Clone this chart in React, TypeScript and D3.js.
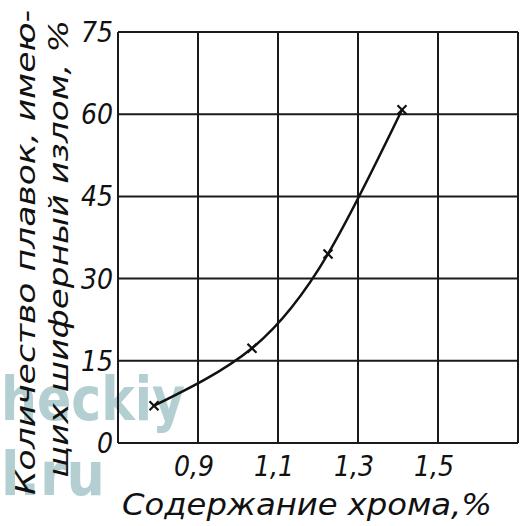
import React from "react";
import * as d3 from "d3";

// Cr content, % and share of heats with slate fracture, %
const chromium = [0.79, 1.035, 1.225, 1.41];
const slateShare = [6.8, 17.3, 34.5, 60.8];
const xTicks = [0.9, 1.1, 1.3, 1.5];
const xGrid = [0.7, 0.9, 1.1, 1.3, 1.5, 1.7];
const yTicks = [0, 15, 30, 45, 60, 75];

const FONT = "'DejaVu Sans Condensed', 'DejaVu Sans', sans-serif";

const App = () => {
  const width = 528;
  const height = 526;
  const left = 118;
  const right = 518;
  const top = 32;
  const bottom = 443;

  const x = d3.scaleLinear().domain([0.7, 1.7]).range([left, right]);
  const y = d3.scaleLinear().domain([0, 75]).range([bottom, top]);

  const points: [number, number][] = chromium.map((c, i) => [c, slateShare[i]]);
  const line = d3
    .line<[number, number]>()
    .x((d) => x(d[0]))
    .y((d) => y(d[1]))
    .curve(d3.curveNatural);

  const fmt = (v: number) => v.toFixed(1).replace(".", ",");

  return (
    <svg
      width={width}
      height={height}
      style={{ position: "absolute", left: 0, top: 0, background: "#fff" }}
    >
      {/* watermark */}
      <g fill="#a6c7cb" opacity={0.85} fontFamily="'DejaVu Sans', sans-serif" fontWeight="bold">
        <text x={1} y={420} fontSize={60} textLength={184} lengthAdjust="spacingAndGlyphs">
          heckiy
        </text>
        <text x={1} y={495} fontSize={60} textLength={104} lengthAdjust="spacingAndGlyphs">
          l.ru
        </text>
      </g>

      {/* grid */}
      <g stroke="#1a1a1a" strokeWidth={2}>
        {xGrid.map((v) => (
          <line key={"gx" + v} x1={x(v)} x2={x(v)} y1={top} y2={bottom} />
        ))}
        {yTicks.map((v) => (
          <line key={"gy" + v} x1={left} x2={right} y1={y(v)} y2={y(v)} />
        ))}
      </g>

      {/* curve */}
      <path d={line(points) || ""} fill="none" stroke="#111" strokeWidth={2.5} />

      {/* markers */}
      {points.map((d, i) => (
        <g key={i} transform={`translate(${x(d[0])},${y(d[1])})`} stroke="#111" strokeWidth={2.2}>
          <line x1={-4.5} y1={-4.5} x2={4.5} y2={4.5} />
          <line x1={-4.5} y1={4.5} x2={4.5} y2={-4.5} />
        </g>
      ))}

      {/* y tick labels */}
      <g fontFamily={FONT} fontStyle="italic" fontSize={28} fill="#111" textAnchor="end">
        {yTicks.map((v) => (
          <text key={"ty" + v} x={left - 5} y={y(v) + 10}>
            {v}
          </text>
        ))}
      </g>

      {/* x tick labels */}
      <g fontFamily={FONT} fontStyle="italic" fontSize={28} fill="#111" textAnchor="middle">
        {xTicks.map((v) => (
          <text key={"tx" + v} x={x(v) - 4} y={476}>
            {fmt(v)}
          </text>
        ))}
      </g>

      {/* x axis title */}
      <text
        x={122}
        y={515}
        fontFamily={FONT}
        fontStyle="italic"
        fontSize={31}
        fill="#111"
        textLength={370}
        lengthAdjust="spacingAndGlyphs"
      >
        Содержание хрома,%
      </text>

      {/* y axis title */}
      <g fontFamily={FONT} fontStyle="italic" fontSize={27} fill="#111">
        <text
          transform="translate(35,495) rotate(-90)"
          textLength={485}
          lengthAdjust="spacingAndGlyphs"
        >
          Количество плавок, имею-
        </text>
        <text
          transform="translate(68,478) rotate(-90)"
          textLength={458}
          lengthAdjust="spacingAndGlyphs"
        >
          щих шиферный излом, %
        </text>
      </g>
    </svg>
  );
};

export default App;
